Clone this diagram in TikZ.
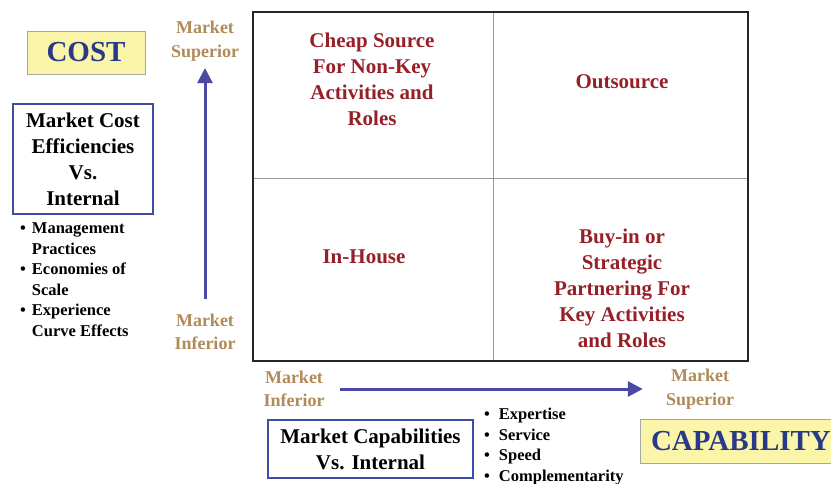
\documentclass[tikz,border=0pt]{standalone}
\usepackage{fontspec}
\setmainfont{Liberation Serif}
\usetikzlibrary{positioning, arrows.meta}

\definecolor{quadred}{RGB}{150,32,40}
\definecolor{axistan}{RGB}{176,138,88}
\definecolor{titleblue}{RGB}{40,58,135}
\definecolor{boxblue}{RGB}{60,78,165}
\definecolor{arrowblue}{RGB}{76,72,165}
\definecolor{paleyellow}{RGB}{250,245,168}

\begin{document}
\begin{tikzpicture}[x=1pt, y=-1pt]
        % Definitions
        \def\matL{253}
        \def\matR{748}
        \def\matT{12}
        \def\matB{361}
        \def\midX{493}
        \def\midY{178}

        % Styles
        \tikzstyle{quad} = [text=quadred, align=center, font=\fontsize{21}{26}\selectfont\bfseries]
        \tikzstyle{axislabel} = [text=axistan, align=center, inner sep=1pt, font=\fontsize{18}{23.5}\selectfont\bfseries]
        \tikzstyle{title} = [fill=paleyellow, draw=gray!70, thick, text=titleblue, font=\fontsize{29}{34}\selectfont\bfseries]
        \tikzstyle{framed} = [draw=boxblue, line width=1.6pt, align=center, font=\fontsize{21}{26}\selectfont\bfseries]
        \tikzstyle{bullets} = [inner sep=0pt, font=\fontsize{16.5}{20.5}\selectfont\bfseries]
        \tikzstyle{axis} = [draw=arrowblue, line width=3pt, -{Triangle[length=15pt, width=15pt]}]

        \useasboundingbox (0,0) rectangle (831,484);
        \clip (0,0) rectangle (831,484);

        % Matrix
        \draw[gray!80, thin] (\midX, \matT) -- (\midX, \matB);
        \draw[gray!80, thin] (\matL, \midY) -- (\matR, \midY);
        \draw[line width=2.5pt, black!85] (\matL, \matT) rectangle (\matR, \matB);

        \node[quad] (cheap) at (372, 79) {Cheap Source\\For Non-Key\\Activities and\\Roles};
        \node[quad] (outsource) at (622, 82) {Outsource};
        \node[quad] (inhouse) at (364, 257) {In-House};
        \node[quad] (buyin) at (622, 288) {Buy-in or\\Strategic\\Partnering For\\Key Activities\\and Roles};

        % Cost side
        \node[title, minimum width=118, minimum height=43] (cost) at (86, 52.5) {COST};
        \node[framed, minimum width=140, minimum height=110] (costbox) at (83, 159) {Market Cost\\Efficiencies\\Vs.\\Internal};
        \node[bullets, anchor=north west] (costlist) at (20, 219) {%
            \begin{tabular}{@{}l@{\hspace{6pt}}l@{}}
            \textbullet & Management\\
                        & Practices\\
            \textbullet & Economies of\\
                        & Scale\\
            \textbullet & Experience\\
                        & Curve Effects
            \end{tabular}};

        \node[axislabel] (supL) at (205, 41) {Market\\Superior};
        \node[axislabel] (infL) at (205, 332) {Market\\Inferior};
        \draw[axis, shorten <=14pt, shorten >=6pt] (infL.north) -- (supL.south);

        % Capability side
        \node[axislabel] (infB) at (294, 389) {Market\\Inferior};
        \node[axislabel] (supB) at (700, 389) {Market\\Superior};
        \draw[axis, shorten <=14pt, shorten >=22pt] (infB.east) -- (supB.west);

        \node[framed, minimum width=205, minimum height=58] (capbox) at (370.5, 449) {Market Capabilities\\Vs. Internal};
        \node[bullets, anchor=north west] (caplist) at (484, 405) {%
            \begin{tabular}{@{}l@{\hspace{9pt}}l@{}}
            \textbullet & Expertise\\
            \textbullet & Service\\
            \textbullet & Speed\\
            \textbullet & Complementarity
            \end{tabular}};
        \node[title, minimum width=206, minimum height=44, text width=184, align=left] (capability) at (743, 441) {CAPABILITY};

    \end{tikzpicture}
\end{document}
